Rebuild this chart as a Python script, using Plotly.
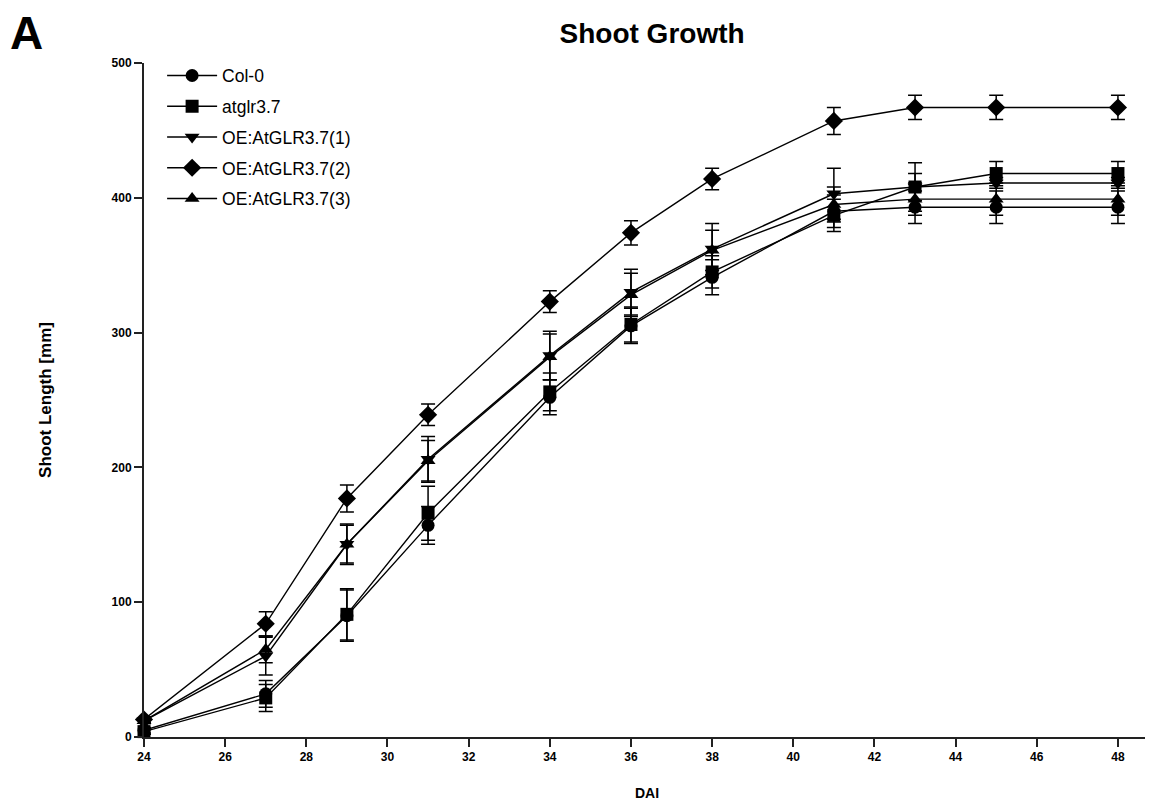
import plotly.graph_objects as go

dai = [24, 27, 29, 31, 34, 36, 38, 41, 43, 45, 48]

series_names = ["Col-0", "atglr3.7", "OE:AtGLR3.7(1)", "OE:AtGLR3.7(2)", "OE:AtGLR3.7(3)"]
series_symbols = ["circle", "square", "triangle-down", "diamond", "triangle-up"]

col0 = [5, 32, 90, 157, 252, 305, 341, 390, 393, 393, 393]
col0_err = [2, 10, 19, 14, 13, 13, 13, 12, 12, 12, 12]

atglr = [4, 29, 91, 166, 256, 306, 345, 387, 408, 418, 418]
atglr_err = [2, 10, 19, 20, 14, 13, 12, 12, 18, 9, 9]

oe1 = [12, 60, 143, 206, 283, 330, 362, 403, 408, 411, 411]
oe1_err = [2, 14, 15, 17, 18, 17, 19, 19, 10, 4, 4]

oe2 = [13, 84, 177, 239, 323, 374, 414, 457, 467, 467, 467]
oe2_err = [2, 9, 10, 8, 8, 9, 8, 10, 9, 9, 9]

oe3 = [12, 65, 143, 205, 282, 328, 361, 395, 399, 399, 399]
oe3_err = [2, 10, 14, 15, 17, 16, 15, 13, 12, 12, 12]

values = [col0, atglr, oe1, oe2, oe3]
errors = [col0_err, atglr_err, oe1_err, oe2_err, oe3_err]

x_ticks = [24, 26, 28, 30, 32, 34, 36, 38, 40, 42, 44, 46, 48]
y_ticks = [0, 100, 200, 300, 400, 500]

FONT = "Arial, 'Liberation Sans', sans-serif"

fig = go.Figure()
for i, (name, sym, vals, errs) in enumerate(zip(series_names, series_symbols, values, errors)):
    fig.add_trace(go.Scatter(
        x=dai, y=vals, name=name, mode="lines+markers",
        legendgroup=f"g{i}",
        line=dict(color="black", width=1.4),
        marker=dict(symbol=sym, size=14 if sym == "diamond" else 13, color="black",
                    line=dict(width=0)),
        error_y=dict(type="data", array=errs, visible=True, color="black",
                     thickness=1.5, width=7),
        cliponaxis=False,
    ))

fig.update_layout(
    width=1145, height=797,
    paper_bgcolor="white", plot_bgcolor="white",
    margin=dict(l=136, r=3, t=55, b=68),
    font=dict(family=FONT, color="black"),
    title=dict(text="<b>Shoot Growth</b>", x=0.5625, xanchor="center", y=0.969, yanchor="middle",
               font=dict(size=28, family=FONT, color="black")),
    legend=dict(x=0.018, y=1.008, xanchor="left", yanchor="top",
                bgcolor="rgba(0,0,0,0)", font=dict(size=17.5, family=FONT, color="black"),
                tracegroupgap=5, itemwidth=50),
    showlegend=True,
    xaxis=dict(range=[24, 48.79], tickvals=x_ticks, ticktext=[f"<b>{t}</b>" for t in x_ticks],
               showgrid=False, zeroline=False, showline=True, linecolor="#222", linewidth=2,
               ticks="outside", ticklen=8, tickwidth=2, tickcolor="#222",
               tickfont=dict(size=12, family=FONT, color="black"),
               title=dict(text="<b>DAI</b>", font=dict(size=14, family=FONT, color="black"), standoff=25)),
    yaxis=dict(range=[0, 500], tickvals=y_ticks, ticktext=[f"<b>{t}</b>" for t in y_ticks],
               showgrid=False, zeroline=False, showline=True, linecolor="#222", linewidth=2,
               ticks="outside", ticklen=8, tickwidth=2, tickcolor="#222",
               tickfont=dict(size=12, family=FONT, color="black"),
               title=dict(text="<b>Shoot Length [mm]</b>", font=dict(size=17, family=FONT, color="black"), standoff=56)),
    annotations=[dict(text="<b>A</b>", xref="paper", yref="paper", x=-0.135, y=1.045,
                      xanchor="left", yanchor="middle", showarrow=False,
                      font=dict(size=46, family=FONT, color="black"))],
)

fig.write_html("out.html")
